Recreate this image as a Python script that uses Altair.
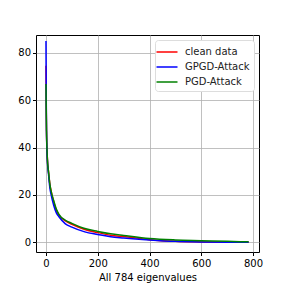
import altair as alt
import pandas as pd

idx = [0, 1, 2, 3, 5, 10, 15, 20, 30, 40, 50, 75, 100, 150, 200, 250, 300, 400, 500, 600, 700, 783]
clean = [74.5, 57, 47, 42, 36, 29.5, 24.5, 21.5, 17, 13.5, 11.5, 9.0, 7.6, 5.4, 4.1, 3.0, 2.4, 1.1, 0.4, 0.15, 0.05, 0.0]
gpgd = [85, 60, 47, 41, 35, 28.5, 23, 20, 15.5, 12.4, 10.8, 7.8, 6.4, 4.4, 3.3, 2.3, 1.8, 1.0, 0.4, 0.15, 0.05, 0.0]
pgd = [66.8, 55, 47, 42, 36, 29.5, 24.5, 21.5, 17.5, 14, 11.8, 9.3, 8.0, 5.8, 4.6, 3.6, 2.9, 1.6, 1.0, 0.7, 0.4, 0.2]
names = ["clean data", "GPGD-Attack", "PGD-Attack"]
colors = ["#ff0000", "#0000ff", "#008000"]

rows = []
for name, vals in zip(names, [clean, gpgd, pgd]):
    for i, v in zip(idx, vals):
        rows.append({"i": i, "v": v, "s": name})
df = pd.DataFrame(rows)

chart = alt.Chart(df).mark_line(strokeWidth=1.5, interpolate="monotone").encode(
    x=alt.X("i:Q", title="All 784 eigenvalues",
            scale=alt.Scale(domain=[-38.6, 823], nice=False, zero=False),
            axis=alt.Axis(values=[0, 200, 400, 600, 800])),
    y=alt.Y("v:Q", title=None,
            scale=alt.Scale(domain=[-4.1, 87.5], nice=False, zero=False),
            axis=alt.Axis(values=[0, 20, 40, 60, 80], labelPadding=2)),
    color=alt.Color("s:N", title=None,
                    scale=alt.Scale(domain=names, range=colors),
                    sort=names,
                    legend=alt.Legend(orient="top-right", offset=5,
                                      fillColor="white", strokeColor="#dddddd",
                                      padding=4, cornerRadius=3,
                                      symbolType="M-1.5,0H1.5", symbolSize=196,
                                      symbolStrokeWidth=1.5, symbolFillColor="transparent",
                                      labelOffset=10,
                                      labelFontSize=10, labelFont="DejaVu Sans",
                                      labelColor="#222222", rowPadding=2)),
    order=alt.Order("s:N"),
).properties(width=223, height=217, padding={"left": 9, "top": 27, "right": 5, "bottom": 5}).configure_view(
    stroke="black", strokeWidth=1
).configure_axis(
    domain=False, grid=True, gridColor="#b0b0b0", gridWidth=0.8,
    tickColor="black", tickSize=3.5, labelFont="DejaVu Sans", labelFontSize=10,
    labelColor="black", titleFont="DejaVu Sans", titleFontSize=10,
    titleFontWeight="normal", titleColor="black", labelPadding=3, titlePadding=4
)

chart.save("out.html", embed_options={"renderer": "svg", "actions": False})
